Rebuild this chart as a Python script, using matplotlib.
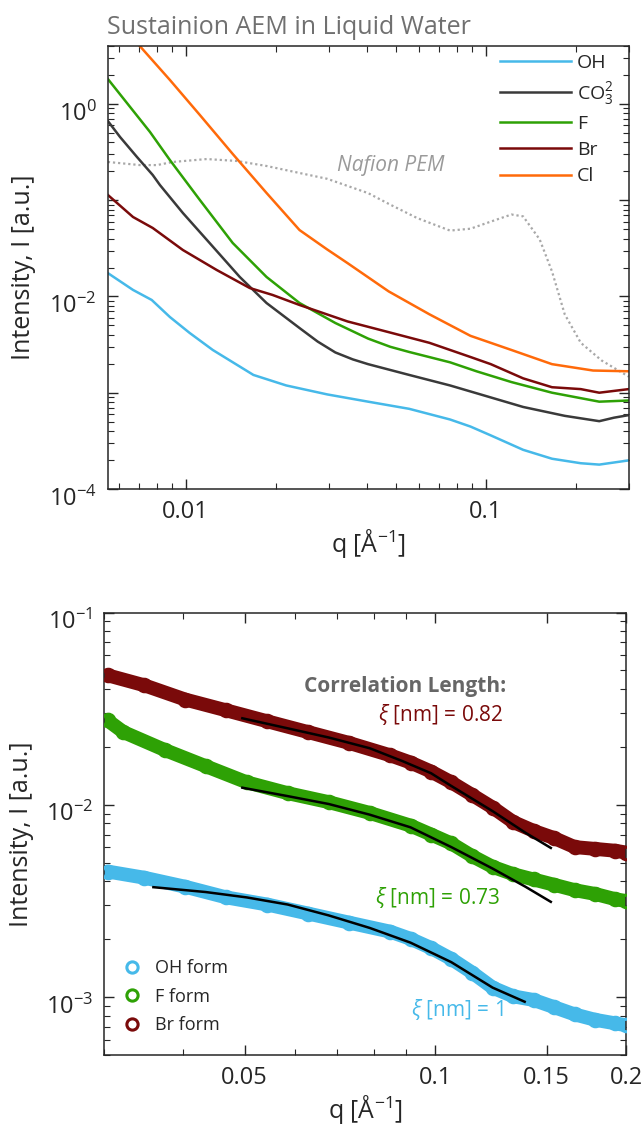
import numpy as np
import matplotlib
matplotlib.use("Agg")
import matplotlib.pyplot as plt
import matplotlib.transforms as mtrans
from matplotlib.ticker import FixedLocator, NullFormatter, LogLocator

plt.rcParams['font.family'] = ['Open Sans', 'DejaVu Sans']
plt.rcParams['mathtext.fontset'] = 'custom'
plt.rcParams['mathtext.rm'] = 'Open Sans'
plt.rcParams['mathtext.it'] = 'Open Sans:italic'

# ---------------- top panel data ----------------
q_oh = [0.0055, 0.00667, 0.0077, 0.00885, 0.0103, 0.0123, 0.0168, 0.0216, 0.0296, 0.0405, 0.0555, 0.0759, 0.0888, 0.1038, 0.133, 0.166, 0.207, 0.2385, 0.299]
I_oh = [0.0175, 0.0117, 0.0092, 0.00612, 0.00418, 0.00278, 0.00153, 0.00119, 0.00096, 0.000807, 0.00068, 0.000527, 0.000445, 0.00036, 0.000255, 0.000206, 0.000185, 0.000179, 0.000198]

q_co3 = [0.0055, 0.00604, 0.00688, 0.00776, 0.0082, 0.00978, 0.012, 0.01513, 0.01858, 0.02393, 0.0275, 0.0315, 0.036, 0.0405, 0.0555, 0.0759, 0.1007, 0.133, 0.183, 0.2385, 0.267, 0.299]
I_co3 = [0.666, 0.454, 0.281, 0.183, 0.144, 0.0737, 0.036, 0.01595, 0.00855, 0.0047, 0.0034, 0.00262, 0.00222, 0.00198, 0.00153, 0.00119, 0.000918, 0.000711, 0.000575, 0.000506, 0.00055, 0.000585]

q_f = [0.0055, 0.0076, 0.00885, 0.01114, 0.01433, 0.01858, 0.02393, 0.0315, 0.0405, 0.048, 0.0555, 0.0759, 0.093, 0.1216, 0.166, 0.2385, 0.299]
I_f = [1.82, 0.512, 0.262, 0.1006, 0.036, 0.01595, 0.00855, 0.0053, 0.00365, 0.0030, 0.00265, 0.00207, 0.00167, 0.00129, 0.001, 0.000807, 0.00083]

q_br = [0.0055, 0.00667, 0.00776, 0.00978, 0.01268, 0.01633, 0.01946, 0.02393, 0.0346, 0.0474, 0.0648, 0.0888, 0.1038, 0.133, 0.166, 0.207, 0.2385, 0.299]
I_br = [0.1135, 0.067, 0.0515, 0.0304, 0.01884, 0.01225, 0.01037, 0.00816, 0.0055, 0.00426, 0.0033, 0.00235, 0.00198, 0.00141, 0.00114, 0.00109, 0.001, 0.00109]

q_cl = [0.00703, 0.00885, 0.01114, 0.01433, 0.01858, 0.02393, 0.0295, 0.0346, 0.0474, 0.0648, 0.0888, 0.1216, 0.166, 0.2275, 0.299]
I_cl = [4.0, 1.78, 0.769, 0.303, 0.119, 0.049, 0.031, 0.0222, 0.0113, 0.00653, 0.0039, 0.00278, 0.00198, 0.0017, 0.00167]

q_naf = [0.0055, 0.00703, 0.00802, 0.00906, 0.01174, 0.01478, 0.01858, 0.02393, 0.0296, 0.0405, 0.0474, 0.059, 0.0759, 0.0888, 0.1038, 0.1216, 0.133, 0.151, 0.166, 0.183, 0.207, 0.243, 0.299]
I_naf = [0.25, 0.232, 0.232, 0.25, 0.268, 0.256, 0.227, 0.192, 0.167, 0.1186, 0.0918, 0.0653, 0.0484, 0.0506, 0.06, 0.0711, 0.068, 0.0392, 0.0182, 0.00653, 0.0033, 0.00216, 0.00147]

# ---------------- bottom panel data ----------------
qs_br = [0.0304, 0.0347, 0.0403, 0.0468, 0.0543, 0.063, 0.0731, 0.0849, 0.0914, 0.0985, 0.106, 0.1144, 0.1232, 0.1327, 0.143, 0.154, 0.166, 0.1788, 0.1925, 0.2]
Is_br = [0.0472, 0.0419, 0.0353, 0.031, 0.0272, 0.0239, 0.021, 0.0181, 0.0166, 0.0149, 0.0131, 0.01125, 0.00968, 0.00815, 0.00732, 0.00672, 0.00603, 0.0059, 0.00577, 0.00565]

qs_f = [0.0304, 0.0322, 0.0374, 0.0434, 0.0504, 0.0585, 0.0679, 0.0788, 0.0914, 0.0985, 0.106, 0.1144, 0.1232, 0.1327, 0.143, 0.154, 0.166, 0.1788, 0.1925, 0.2]
Is_f = [0.0275, 0.0239, 0.0193, 0.0159, 0.0131, 0.0115, 0.01033, 0.00908, 0.0078, 0.00701, 0.0063, 0.00541, 0.00476, 0.00436, 0.00409, 0.00384, 0.0036, 0.00344, 0.00323, 0.00316]

qs_oh = [0.0304, 0.0347, 0.0403, 0.0468, 0.0543, 0.063, 0.0731, 0.0849, 0.0914, 0.0985, 0.106, 0.1144, 0.1232, 0.1327, 0.143, 0.154, 0.166, 0.1788, 0.1925, 0.2]
Is_oh = [0.0045, 0.00418, 0.00375, 0.0033, 0.00303, 0.00272, 0.00244, 0.00219, 0.00201, 0.0018, 0.00158, 0.00134, 0.00112, 0.00101, 0.000966, 0.000887, 0.000813, 0.000762, 0.00073, 0.000714]

qfit_br = [0.0496, 0.0585, 0.0679, 0.0788, 0.0887, 0.0985, 0.106, 0.1232, 0.1388, 0.1522]
Ifit_br = [0.0282, 0.025, 0.0224, 0.0197, 0.0169, 0.0146, 0.01254, 0.00927, 0.00716, 0.00597]
qfit_f = [0.0496, 0.0585, 0.0679, 0.0788, 0.0914, 0.106, 0.1232, 0.1388, 0.1522]
Ifit_f = [0.01228, 0.0111, 0.0101, 0.00889, 0.00764, 0.00603, 0.00466, 0.00375, 0.00313]
qfit_oh = [0.0359, 0.0434, 0.0504, 0.0585, 0.0679, 0.0788, 0.0914, 0.106, 0.1232, 0.1384]
Ifit_oh = [0.00373, 0.00352, 0.0033, 0.00303, 0.00266, 0.00229, 0.00192, 0.00152, 0.00112, 0.000946]

c_oh = '#46B9E9'
c_co3 = '#3A3A3A'
c_f = '#2EA105'
c_br = '#7A0A0A'
c_cl = '#FF6A0A'
c_naf = '#A8A8A8'
axcol = '#262626'

fig = plt.figure(figsize=(6.42, 11.24), dpi=100)


def style(ax):
    ax.set_xscale('log')
    ax.set_yscale('log')
    ax.tick_params(which='both', direction='in', top=True, right=True, colors=axcol, labelsize=17, pad=8)
    ax.tick_params(which='major', length=7, width=1)
    ax.tick_params(which='minor', length=4, width=0.8)
    for s in ax.spines.values():
        s.set_color(axcol)
        s.set_linewidth(1.1)


def shift_ylabels(ax):
    off = mtrans.ScaledTranslation(0, -5 / 72, fig.dpi_scale_trans)
    for lab in ax.get_yticklabels():
        lab.set_transform(lab.get_transform() + off)


# ---------------- top ----------------
ax1 = fig.add_axes([0.168, 0.565, 0.812, 0.394])
style(ax1)
ax1.plot(q_naf, I_naf, ls=(0, (1, 1.3)), color=c_naf, lw=1.6)
ax1.plot(q_oh, I_oh, color=c_oh, lw=1.8, label='OH')
ax1.plot(q_co3, I_co3, color=c_co3, lw=1.8, label=r'CO$_3^2$')
ax1.plot(q_f, I_f, color=c_f, lw=1.8, label='F')
ax1.plot(q_br, I_br, color=c_br, lw=1.8, label='Br')
ax1.plot(q_cl, I_cl, color=c_cl, lw=1.8, label='Cl')
ax1.set_xlim(0.0055, 0.3)
ax1.set_ylim(1e-4, 4)
ax1.yaxis.set_major_locator(FixedLocator([1e-4, 1e-3, 1e-2, 1e-1, 1]))
ax1.set_yticklabels([r'$10^{-4}$', '', r'$10^{-2}$', '', r'$10^{0}$'])
ax1.yaxis.set_minor_locator(LogLocator(base=10, subs=np.arange(2, 10)))
ax1.yaxis.set_minor_formatter(NullFormatter())
ax1.xaxis.set_major_locator(FixedLocator([0.01, 0.1]))
ax1.set_xticklabels(['0.01', '0.1'])
ax1.xaxis.set_minor_locator(LogLocator(base=10, subs=np.arange(2, 10)))
ax1.xaxis.set_minor_formatter(NullFormatter())
ax1.set_xlabel(r'q [Å$^{-1}$]', fontsize=18, color=axcol, labelpad=2)
ax1.set_ylabel('Intensity, I [a.u.]', fontsize=18, color=axcol, labelpad=9)
ax1.set_title('Sustainion AEM in Liquid Water', fontsize=18, color='#707070', loc='left', x=-0.002, pad=9)
ax1.text(0.032, 0.23, 'Nafion PEM', fontsize=15, color='#9A9A9A', style='italic', ha='left', va='center')
leg = ax1.legend(loc='upper left', frameon=False, fontsize=14, handlelength=3.65, handletextpad=0.3,
                 labelspacing=0.42, borderaxespad=0, bbox_to_anchor=(0.737, 1.0))
for t in leg.get_texts():
    t.set_color(axcol)
shift_ylabels(ax1)

# ---------------- bottom ----------------
ax2 = fig.add_axes([0.162, 0.0614, 0.813, 0.3936])
style(ax2)
for qq, ii, cc, lab in [(qs_oh, Is_oh, c_oh, 'OH form'), (qs_f, Is_f, c_f, 'F form'), (qs_br, Is_br, c_br, 'Br form')]:
    ax2.plot(qq, ii, color=cc, lw=10, solid_capstyle='round', zorder=2)
    ax2.plot(qq, ii, ls='none', marker='o', ms=9, mfc='none', mec=cc, mew=2.2, label=lab, zorder=3)
ax2.plot(qfit_br, Ifit_br, color='black', lw=1.8, zorder=4)
ax2.plot(qfit_f, Ifit_f, color='black', lw=1.8, zorder=4)
ax2.plot(qfit_oh, Ifit_oh, color='black', lw=1.8, zorder=4)
ax2.set_xlim(0.03, 0.2)
ax2.set_ylim(5e-4, 0.1)
ax2.yaxis.set_major_locator(FixedLocator([1e-3, 1e-2, 1e-1]))
ax2.set_yticklabels([r'$10^{-3}$', r'$10^{-2}$', r'$10^{-1}$'])
ax2.yaxis.set_minor_locator(LogLocator(base=10, subs=np.arange(2, 10)))
ax2.yaxis.set_minor_formatter(NullFormatter())
ax2.xaxis.set_major_locator(FixedLocator([0.05, 0.1, 0.15, 0.2]))
ax2.set_xticklabels(['0.05', '0.1', '0.15', '0.2'])
ax2.xaxis.set_minor_locator(FixedLocator([0.03, 0.04, 0.06, 0.07, 0.08, 0.09]))
ax2.xaxis.set_minor_formatter(NullFormatter())
ax2.set_xlabel(r'q [Å$^{-1}$]', fontsize=18, color=axcol, labelpad=2)
ax2.set_ylabel('Intensity, I [a.u.]', fontsize=18, color=axcol, labelpad=8)
ax2.text(0.1295, 0.0415, 'Correlation Length:', fontsize=15, color='#666666', fontweight='bold', ha='right', va='center')
ax2.text(0.128, 0.0294, r'$\xi$ [nm] = 0.82', fontsize=15, color=c_br, ha='right', va='center')
ax2.text(0.1265, 0.0033, r'$\xi$ [nm] = 0.73', fontsize=15, color=c_f, ha='right', va='center')
ax2.text(0.1284, 0.00086, r'$\xi$ [nm] = 1', fontsize=15, color=c_oh, ha='right', va='center')
leg2 = ax2.legend(loc='lower left', frameon=False, fontsize=13, handlelength=1.2, handletextpad=0.7,
                  labelspacing=0.6, borderaxespad=0, bbox_to_anchor=(0.019, 0.03), markerscale=0.9)
for t in leg2.get_texts():
    t.set_color(axcol)
shift_ylabels(ax2)

plt.savefig('out.png', dpi=100)
